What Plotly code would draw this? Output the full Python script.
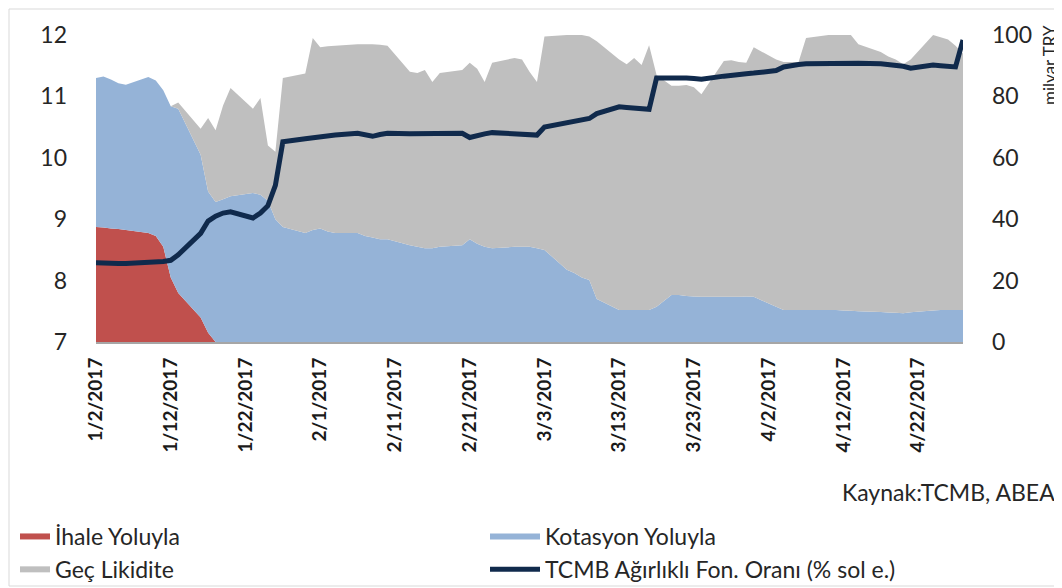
import plotly.graph_objects as go

dates = (
    ["2017-01-%02d" % d for d in [2, 3, 4, 5, 6, 9, 10, 11, 12, 13, 16, 17, 18, 19, 20, 23, 24, 25, 26, 27, 30, 31]]
    + ["2017-02-%02d" % d for d in [1, 2, 3, 6, 7, 8, 9, 10, 13, 14, 15, 16, 17, 20, 21, 22, 23, 24, 27, 28]]
    + ["2017-03-%02d" % d for d in [1, 2, 3, 6, 7, 8, 9, 10, 13, 14, 15, 16, 17, 18, 20, 21, 22, 23, 24, 27, 28, 29, 30, 31]]
    + ["2017-04-%02d" % d for d in [3, 4, 5, 6, 7, 10, 11, 12, 13, 14, 17, 18, 19, 20, 21, 24, 25, 26, 27, 28]]
)

ihale = [37.5, 37.3, 37.0, 36.8, 36.5, 35.5, 34.5, 31, 21, 16, 8, 3] + [0] * 74

kotasyon = (
    [48.5, 49.2, 48.5, 47.5, 47.3, 50.8, 50.7, 51, 55.8, 60, 53, 46, 45.6, 46.5, 47.5, 48.5, 48, 46, 40, 37.5, 35.5, 36.5]
    + [37, 36, 35.5, 35.5, 34.5, 34, 33.5, 33.5, 31.5, 31, 30.5, 30.5, 31, 31.5, 33.5, 32, 31, 30.5, 31, 31]
    + [31, 30.5, 30, 23.5, 22.5, 21, 20.2, 14, 10.4, 10.4, 10.4, 10.4, 10.4, 11.5, 15.3, 15.3, 15, 14.8, 14.7, 14.7, 14.7, 14.7, 14.8, 14.7]
    + [11.5, 10.4, 10.4, 10.4, 10.4, 10.4, 10.4, 10.3, 10.2, 10, 9.8, 9.6, 9.5, 9.4, 9.7, 10.3, 10.4, 10.4, 10.4, 10.4]
)

gec = (
    [0, 0, 0, 0, 0, 0, 0, 0, 0, 2, 8.5, 24, 23.4, 30.5, 35.2, 27.5, 31.5, 18, 22, 48.5, 52, 62.5]
    + [59, 60.3, 61, 61.5, 62.5, 63, 63.3, 63, 56.5, 56.6, 58.1, 54.2, 56.6, 57.1, 57.5, 57, 53.7, 60.5, 61.5, 61]
    + [57, 54.2, 69.5, 76.5, 77.5, 79, 79.3, 84, 81.6, 80.1, 82.1, 79.8, 86.3, 75.5, 68.2, 68.2, 68.7, 68.2, 66, 76.8, 77.1, 76.5, 76.2, 81.3]
    + [80.5, 80.8, 80.8, 80.8, 88.6, 89.6, 89.6, 89.7, 89.8, 87, 84.7, 83.4, 82.5, 81.1, 82.3, 89.7, 88.9, 88.1, 86.1, 83.6]
)

oran = (
    [8.29, 8.28, 8.28, 8.28, 8.28, 8.29, 8.30, 8.31, 8.33, 8.42, 8.77, 8.97, 9.05, 9.10, 9.12, 9.02, 9.10, 9.22, 9.55, 10.26, 10.31, 10.33]
    + [10.35, 10.36, 10.37, 10.40, 10.38, 10.35, 10.38, 10.40, 10.39, 10.39, 10.39, 10.39, 10.40, 10.40, 10.33, 10.37, 10.39, 10.41, 10.39, 10.38]
    + [10.37, 10.37, 10.50, 10.57, 10.60, 10.62, 10.64, 10.72, 10.83, 10.82, 10.81, 10.80, 10.79, 11.30, 11.31, 11.31, 11.30, 11.29, 11.28, 11.33, 11.35, 11.36, 11.37, 11.38]
    + [11.42, 11.48, 11.51, 11.52, 11.53, 11.54, 11.54, 11.55, 11.55, 11.54, 11.53, 11.52, 11.51, 11.49, 11.46, 11.51, 11.50, 11.49, 11.48, 11.92]
)

tick_dates = ["2017-01-02", "2017-01-12", "2017-01-22", "2017-02-01", "2017-02-11", "2017-02-21",
              "2017-03-03", "2017-03-13", "2017-03-23", "2017-04-02", "2017-04-12", "2017-04-22"]
tick_labels = ["1/2/2017", "1/12/2017", "1/22/2017", "2/1/2017", "2/11/2017", "2/21/2017",
               "3/3/2017", "3/13/2017", "3/23/2017", "4/2/2017", "4/12/2017", "4/22/2017"]

FONT = "Lato"
TXT = "#262626"

fig = go.Figure()
fig.add_trace(go.Scatter(x=dates, y=ihale, name="İhale Yoluyla", stackgroup="one",
                         mode="none", fillcolor="#C0504D", yaxis="y", legend="legend"))
fig.add_trace(go.Scatter(x=dates, y=kotasyon, name="Kotasyon Yoluyla", stackgroup="one",
                         mode="none", fillcolor="#95B3D7", yaxis="y", legend="legend2"))
fig.add_trace(go.Scatter(x=dates, y=gec, name="Geç Likidite", stackgroup="one",
                         mode="none", fillcolor="#BFBFBF", yaxis="y", legend="legend"))
fig.add_trace(go.Scatter(x=dates, y=oran, name="TCMB Ağırlıklı Fon. Oranı (% sol e.)",
                         mode="lines", line=dict(color="#102A4C", width=5), yaxis="y2",
                         legend="legend2"))

# page has an 8px body margin: figure sits at (8, 8) in the window
OFF = 8
W, H = 1062 - OFF, 588 - OFF
PL, PR, PT, PB = 96, 963, 35, 342          # plot area in window pixels
L, R, T, B = PL - OFF, 1062 - PR, PT - OFF, 588 - PB
pw = PR - PL
ph = PB - PT


def px(xp):
    return (xp - PL) / pw


def py(yp):
    return (PB - yp) / ph


fig.update_layout(
    width=W, height=H,
    margin=dict(l=L, r=R, t=T, b=B, autoexpand=False),
    paper_bgcolor="white", plot_bgcolor="white",
    font=dict(family=FONT, color=TXT, size=24),
    xaxis=dict(type="date", range=["2017-01-02", "2017-04-28"],
               tickvals=tick_dates, ticktext=tick_labels, tickangle=-90,
               tickfont=dict(size=19, color="#1a1a1a", family=FONT, weight="bold"),
               showgrid=False, zeroline=False, showline=True, linecolor="#A6A6A6", linewidth=2,
               ticks="", ticklabelstandoff=6, automargin=False),
    yaxis=dict(range=[0, 100], dtick=20, side="right", showgrid=False, zeroline=False,
               showline=False, ticks="", tickfont=dict(size=23, color=TXT),
               ticklabelstandoff=28, automargin=False),
    yaxis2=dict(range=[7, 12], dtick=1, side="left", overlaying="y", showgrid=False,
                zeroline=False, showline=False, ticks="", tickfont=dict(size=23, color=TXT),
                ticklabelstandoff=28, automargin=False),
    legend=dict(x=px(15), y=py(515), xanchor="left", yanchor="top", orientation="v",
                traceorder="normal",
                font=dict(size=23, color=TXT), bgcolor="rgba(0,0,0,0)", tracegroupgap=0),
    legend2=dict(x=px(485), y=py(515), xanchor="left", yanchor="top", orientation="v",
                 traceorder="normal", itemwidth=50,
                 font=dict(size=23, color=TXT), bgcolor="rgba(0,0,0,0)", tracegroupgap=0),
    showlegend=True,
)

fig.add_annotation(xref="paper", yref="paper", x=px(1057), y=py(492), xanchor="right",
                   yanchor="middle", text="Kaynak:TCMB, ABEA", showarrow=False,
                   font=dict(size=23, color=TXT))
fig.add_annotation(xref="paper", yref="paper", x=px(1049), y=py(65), xanchor="center",
                   yanchor="middle", text="milyar TRY", textangle=-90, showarrow=False,
                   font=dict(size=17, color=TXT))

fig.add_shape(type="rect", xref="paper", yref="paper", x0=px(9), x1=px(1060), y0=py(586), y1=py(9),
              line=dict(color="#D9D9D9", width=1), fillcolor="rgba(0,0,0,0)", layer="below")

fig.write_html("out.html")
